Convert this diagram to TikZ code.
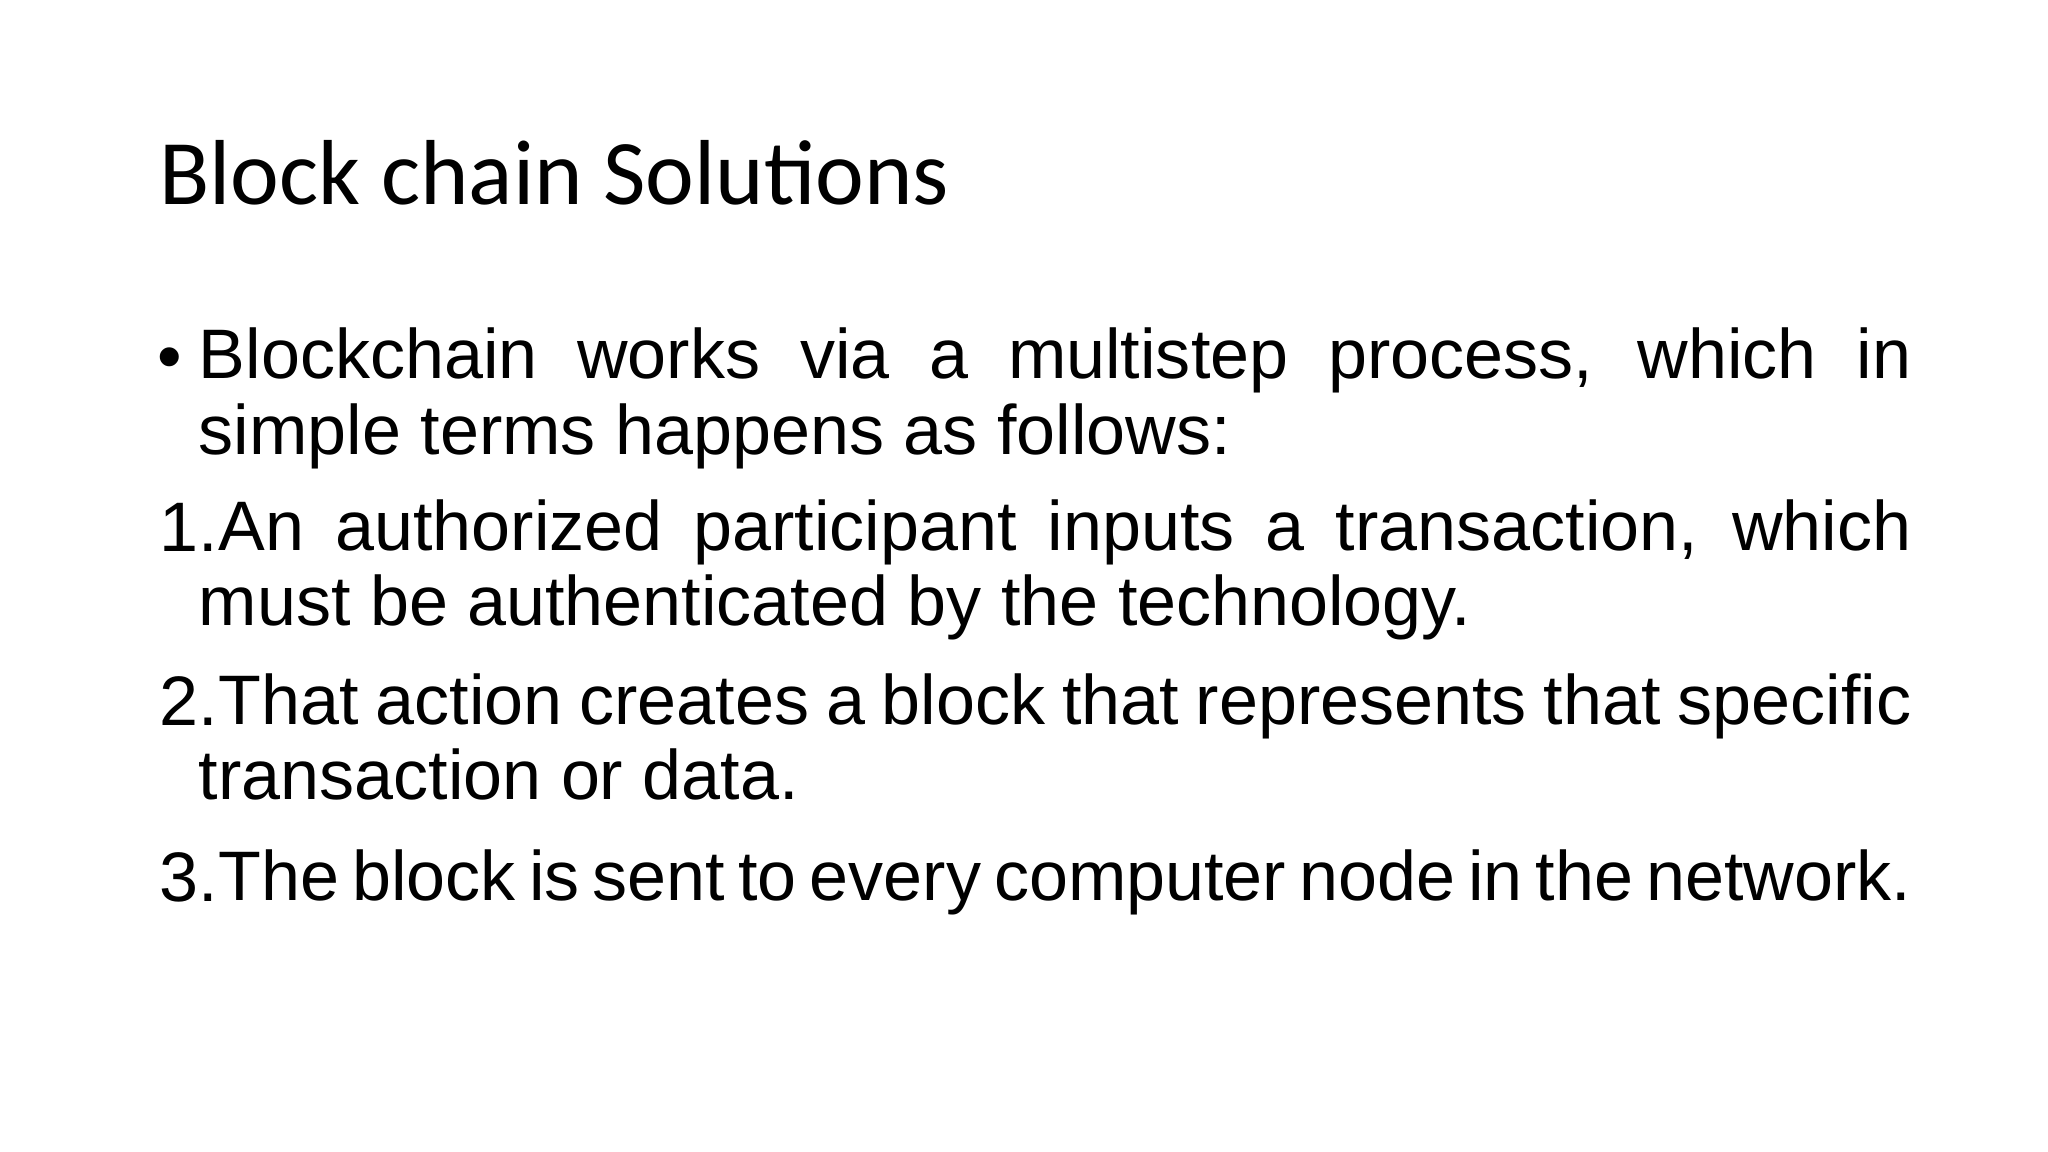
\documentclass[tikz,border=0pt]{standalone}
\usepackage{fontspec}
\setmainfont{Liberation Sans}
\newfontfamily\titlefont{Carlito}
\hyphenpenalty=10000
\exhyphenpenalty=10000
\tolerance=9999
\begin{document}
\begin{tikzpicture}[x=0.01cm,y=-0.01cm,
  para/.style={anchor=north west,inner sep=0pt,text width=12.97cm,align=justify,font=\fontsize{15.1}{16.2}\selectfont,
    execute at begin node={\hyphenpenalty=10000\exhyphenpenalty=10000\tolerance=9999\relax}},
  lbl/.style={anchor=base west,inner sep=0pt,font=\fontsize{15.1}{16.2}\selectfont}]
\useasboundingbox[fill=white] (0,0) rectangle (1552,873);
\node[anchor=base west,inner sep=0pt,font=\titlefont\fontsize{19.9}{24}\selectfont] (title) at (120,155) {Block chain Solutions};
\node[lbl] (b0) at (119,288) {\textbullet};
\node[para] (p0) at (150,248) {Blockchain works via a multistep process, which in simple terms happens as follows:};
\node[lbl] (b1) at (120,418) {1.};
\node[para] (p1) at (150,378) {\hspace*{0.15cm}An authorized participant inputs a transaction, which must be authenticated by the technology.};
\node[lbl] (b2) at (120,550) {2.};
\node[para] (p2) at (150,510) {\hspace*{0.15cm}That action creates a block that represents that specific transaction or data.};
\node[lbl] (b3) at (120,683) {3.};
\node[para] (p3) at (150,643) {\hspace*{0.15cm}The block is sent to every computer node in the network.};
\end{tikzpicture}
\end{document}
